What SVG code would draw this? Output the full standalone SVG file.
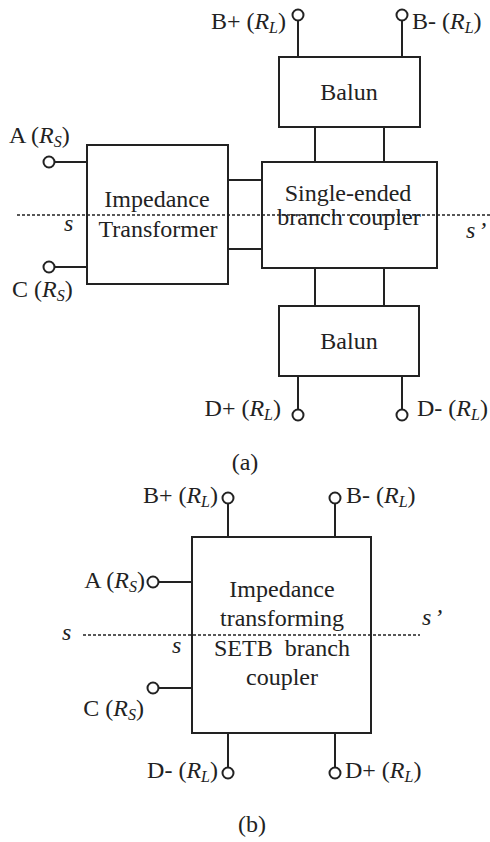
<svg xmlns="http://www.w3.org/2000/svg" width="490" height="842" viewBox="0 0 490 842">
<style>
.box{fill:#fff;stroke:#222;stroke-width:2}
.ln{stroke:#222;stroke-width:2;fill:none}
.port{fill:#fff;stroke:#222;stroke-width:2}
.dash{stroke:#222;stroke-width:1.5;stroke-dasharray:3 2;fill:none}
text{font-family:"Liberation Serif","Times New Roman",serif;font-size:24px;fill:#222}
.it{font-style:italic}
.sub{font-size:16px;font-style:italic}
.mid{text-anchor:middle}
.end{text-anchor:end}
</style>
<rect width="490" height="842" fill="#fff"/>
<g id="connectors">
  <line class="ln" x1="54" y1="162" x2="87" y2="162"/>
  <line class="ln" x1="54" y1="267" x2="87" y2="267"/>
  <line class="ln" x1="228" y1="180" x2="262" y2="180"/>
  <line class="ln" x1="228" y1="249" x2="262" y2="249"/>
  <line class="ln" x1="315" y1="127" x2="315" y2="162"/>
  <line class="ln" x1="384" y1="127" x2="384" y2="162"/>
  <line class="ln" x1="315" y1="268" x2="315" y2="306"/>
  <line class="ln" x1="384" y1="268" x2="384" y2="306"/>
  <line class="ln" x1="298" y1="21" x2="298" y2="57"/>
  <line class="ln" x1="402" y1="21" x2="402" y2="57"/>
  <line class="ln" x1="298" y1="376" x2="298" y2="409"/>
  <line class="ln" x1="402" y1="376" x2="402" y2="409"/>
  <line class="ln" x1="228" y1="504" x2="228" y2="537"/>
  <line class="ln" x1="335" y1="504" x2="335" y2="537"/>
  <line class="ln" x1="159" y1="582" x2="192" y2="582"/>
  <line class="ln" x1="159" y1="688" x2="192" y2="688"/>
  <line class="ln" x1="228" y1="733" x2="228" y2="767"/>
  <line class="ln" x1="335" y1="733" x2="335" y2="767"/>
</g>
<g id="impedance-transformer">
  <rect class="box" x="87" y="145" width="141" height="139"/>
  <text class="mid" x="157" y="207">Impedance</text>
  <text class="mid" x="158" y="237">Transformer</text>
</g>
<g id="se-coupler">
  <rect class="box" x="262" y="162" width="175" height="106"/>
  <text class="mid" x="348" y="201">Single-ended</text>
  <text class="mid" x="349" y="225">branch coupler</text>
</g>
<g id="balun-top">
  <rect class="box" x="279" y="57" width="141" height="70"/>
  <text class="mid" x="349" y="100">Balun</text>
</g>
<g id="balun-bottom">
  <rect class="box" x="279" y="306" width="140" height="70"/>
  <text class="mid" x="349" y="349">Balun</text>
</g>
<g id="ports-a">
  <circle class="port" cx="49" cy="162" r="5.5"/>
  <circle class="port" cx="49" cy="267" r="5.5"/>
  <circle class="port" cx="298" cy="15" r="5.5"/>
  <circle class="port" cx="402" cy="15" r="5.5"/>
  <circle class="port" cx="298" cy="415" r="5.5"/>
  <circle class="port" cx="402" cy="415" r="5.5"/>
  <text x="9" y="143">A (<tspan class="it">R</tspan><tspan class="sub" dy="4">S</tspan><tspan dy="-4">)</tspan></text>
  <text x="12" y="297">C (<tspan class="it">R</tspan><tspan class="sub" dy="4">S</tspan><tspan dy="-4">)</tspan></text>
  <text class="end" x="286" y="29">B+ (<tspan class="it">R</tspan><tspan class="sub" dy="4">L</tspan><tspan dy="-4">)</tspan></text>
  <text x="412" y="29">B- (<tspan class="it">R</tspan><tspan class="sub" dy="4">L</tspan><tspan dy="-4">)</tspan></text>
  <text class="end" x="281" y="416">D+ (<tspan class="it">R</tspan><tspan class="sub" dy="4">L</tspan><tspan dy="-4">)</tspan></text>
  <text x="417" y="416">D- (<tspan class="it">R</tspan><tspan class="sub" dy="4">L</tspan><tspan dy="-4">)</tspan></text>
  <line class="dash" x1="17" y1="215" x2="490" y2="215"/>
  <text class="it" x="64" y="231">s</text>
  <text class="it" x="466" y="238">s<tspan dx="3">’</tspan></text>
  <text class="mid" x="245" y="470">(a)</text>
</g>
<g id="setb-coupler">
  <rect class="box" x="192" y="537" width="179" height="196"/>
  <text class="mid" x="282" y="597">Impedance</text>
  <text class="mid" x="282" y="626">transforming</text>
  <text class="mid" x="282" y="656" xml:space="preserve">SETB  branch</text>
  <text class="mid" x="282" y="685">coupler</text>
</g>
<g id="ports-b">
  <circle class="port" cx="228" cy="498" r="5.5"/>
  <circle class="port" cx="335" cy="498" r="5.5"/>
  <circle class="port" cx="153" cy="582" r="5.5"/>
  <circle class="port" cx="153" cy="688" r="5.5"/>
  <circle class="port" cx="228" cy="773" r="5.5"/>
  <circle class="port" cx="335" cy="773" r="5.5"/>
  <text class="end" x="218" y="503">B+ (<tspan class="it">R</tspan><tspan class="sub" dy="4">L</tspan><tspan dy="-4">)</tspan></text>
  <text x="346" y="503">B- (<tspan class="it">R</tspan><tspan class="sub" dy="4">L</tspan><tspan dy="-4">)</tspan></text>
  <text class="end" x="145" y="588">A (<tspan class="it">R</tspan><tspan class="sub" dy="4">S</tspan><tspan dy="-4">)</tspan></text>
  <text class="end" x="144" y="716">C (<tspan class="it">R</tspan><tspan class="sub" dy="4">S</tspan><tspan dy="-4">)</tspan></text>
  <text class="end" x="218" y="778">D- (<tspan class="it">R</tspan><tspan class="sub" dy="4">L</tspan><tspan dy="-4">)</tspan></text>
  <text x="345" y="778">D+ (<tspan class="it">R</tspan><tspan class="sub" dy="4">L</tspan><tspan dy="-4">)</tspan></text>
  <line class="dash" x1="83" y1="635" x2="420" y2="635"/>
  <text class="it" x="62" y="640">s</text>
  <text class="it" x="172" y="653">s</text>
  <text class="it" x="422" y="625">s<tspan dx="3">’</tspan></text>
  <text class="mid" x="252" y="832">(b)</text>
</g>
</svg>
